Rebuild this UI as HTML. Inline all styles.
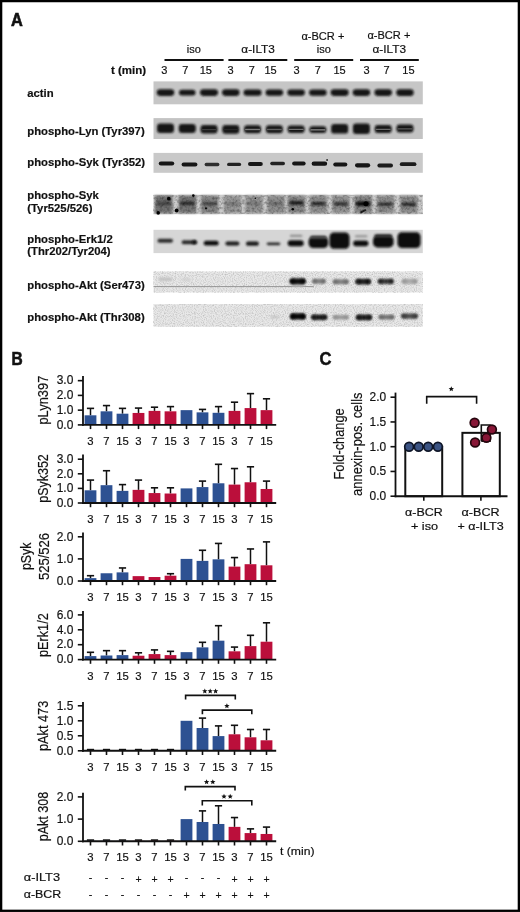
<!DOCTYPE html><html><head><meta charset="utf-8"><title>Figure</title><style>html,body{margin:0;padding:0;background:#fff;}svg{display:block;font-family:"Liberation Sans", sans-serif;will-change:transform;}text{fill:#111;stroke:#111;stroke-width:0.18px;}</style></head><body><svg width="520" height="912" viewBox="0 0 520 912"><defs><filter id="bl05" x="-10%" y="-50%" width="120%" height="200%"><feGaussianBlur stdDeviation="0.5"/></filter><filter id="bl06" x="-20%" y="-100%" width="140%" height="300%"><feGaussianBlur stdDeviation="0.6"/></filter><filter id="bl1" x="-30%" y="-100%" width="160%" height="300%"><feGaussianBlur stdDeviation="0.9"/></filter><filter id="bl15" x="-30%" y="-60%" width="160%" height="220%"><feGaussianBlur stdDeviation="1.4"/></filter><filter id="nzd" x="0" y="0" width="1" height="1"><feTurbulence type="fractalNoise" baseFrequency="0.4" numOctaves="2" seed="7"/><feColorMatrix type="matrix" values="0 0 0 0 0  0 0 0 0 0  0 0 0 0 0  2.4 0 0 0 -1.0"/><feGaussianBlur stdDeviation="0.35"/></filter><filter id="nzf" x="0" y="0" width="1" height="1"><feTurbulence type="fractalNoise" baseFrequency="0.9" numOctaves="1" seed="3"/><feColorMatrix type="matrix" values="0 0 0 0 0  0 0 0 0 0  0 0 0 0 0  2.6 0 0 0 -1.1"/><feGaussianBlur stdDeviation="0.3"/></filter><linearGradient id="sm_93921" x1="0" x2="1" y1="0" y2="0"><stop offset="0" stop-color="#040404"/><stop offset="0.25" stop-color="#040404" stop-opacity="0.6"/><stop offset="0.5" stop-color="#040404" stop-opacity="0.2"/><stop offset="0.75" stop-color="#040404" stop-opacity="0.6"/><stop offset="1" stop-color="#040404"/></linearGradient><linearGradient id="sm_40996" x1="0" x2="1" y1="0" y2="0"><stop offset="0" stop-color="#111"/><stop offset="0.25" stop-color="#111" stop-opacity="0.6"/><stop offset="0.5" stop-color="#111" stop-opacity="0.2"/><stop offset="0.75" stop-color="#111" stop-opacity="0.6"/><stop offset="1" stop-color="#111"/></linearGradient><linearGradient id="sm_61339" x1="0" x2="1" y1="0" y2="0"><stop offset="0" stop-color="#151515"/><stop offset="0.25" stop-color="#151515" stop-opacity="0.6"/><stop offset="0.5" stop-color="#151515" stop-opacity="0.2"/><stop offset="0.75" stop-color="#151515" stop-opacity="0.6"/><stop offset="1" stop-color="#151515"/></linearGradient><linearGradient id="sm_82907" x1="0" x2="1" y1="0" y2="0"><stop offset="0" stop-color="#626262"/><stop offset="0.25" stop-color="#626262" stop-opacity="0.6"/><stop offset="0.5" stop-color="#626262" stop-opacity="0.2"/><stop offset="0.75" stop-color="#626262" stop-opacity="0.6"/><stop offset="1" stop-color="#626262"/></linearGradient><linearGradient id="sm_10136" x1="0" x2="1" y1="0" y2="0"><stop offset="0" stop-color="#0a0a0a"/><stop offset="0.25" stop-color="#0a0a0a" stop-opacity="0.6"/><stop offset="0.5" stop-color="#0a0a0a" stop-opacity="0.2"/><stop offset="0.75" stop-color="#0a0a0a" stop-opacity="0.6"/><stop offset="1" stop-color="#0a0a0a"/></linearGradient><linearGradient id="sm_11785" x1="0" x2="1" y1="0" y2="0"><stop offset="0" stop-color="#2e2e2e"/><stop offset="0.25" stop-color="#2e2e2e" stop-opacity="0.6"/><stop offset="0.5" stop-color="#2e2e2e" stop-opacity="0.2"/><stop offset="0.75" stop-color="#2e2e2e" stop-opacity="0.6"/><stop offset="1" stop-color="#2e2e2e"/></linearGradient><linearGradient id="sm_97739" x1="0" x2="1" y1="0" y2="0"><stop offset="0" stop-color="#8a8a8a"/><stop offset="0.25" stop-color="#8a8a8a" stop-opacity="0.6"/><stop offset="0.5" stop-color="#8a8a8a" stop-opacity="0.2"/><stop offset="0.75" stop-color="#8a8a8a" stop-opacity="0.6"/><stop offset="1" stop-color="#8a8a8a"/></linearGradient><linearGradient id="sm_36429" x1="0" x2="1" y1="0" y2="0"><stop offset="0" stop-color="#8e8e8e"/><stop offset="0.25" stop-color="#8e8e8e" stop-opacity="0.6"/><stop offset="0.5" stop-color="#8e8e8e" stop-opacity="0.2"/><stop offset="0.75" stop-color="#8e8e8e" stop-opacity="0.6"/><stop offset="1" stop-color="#8e8e8e"/></linearGradient><linearGradient id="sm_82413" x1="0" x2="1" y1="0" y2="0"><stop offset="0" stop-color="#0e0e0e"/><stop offset="0.25" stop-color="#0e0e0e" stop-opacity="0.6"/><stop offset="0.5" stop-color="#0e0e0e" stop-opacity="0.2"/><stop offset="0.75" stop-color="#0e0e0e" stop-opacity="0.6"/><stop offset="1" stop-color="#0e0e0e"/></linearGradient><linearGradient id="sm_79787" x1="0" x2="1" y1="0" y2="0"><stop offset="0" stop-color="#5e5e5e"/><stop offset="0.25" stop-color="#5e5e5e" stop-opacity="0.6"/><stop offset="0.5" stop-color="#5e5e5e" stop-opacity="0.2"/><stop offset="0.75" stop-color="#5e5e5e" stop-opacity="0.6"/><stop offset="1" stop-color="#5e5e5e"/></linearGradient></defs><rect width="520" height="912" fill="#fff"/><text x="11.00" y="25.50" font-size="17.5" font-weight="bold" textLength="11.80" lengthAdjust="spacingAndGlyphs" style="stroke-width:0.6px">A</text>
<text x="193.90" y="53.20" font-size="11" text-anchor="middle" >iso</text>
<text x="258.10" y="52.60" font-size="11" text-anchor="middle" textLength="33.50" lengthAdjust="spacingAndGlyphs" >α-ILT3</text>
<text x="322.90" y="39.50" font-size="11" text-anchor="middle" textLength="43.00" lengthAdjust="spacingAndGlyphs" >α-BCR +</text>
<text x="323.90" y="52.80" font-size="11" text-anchor="middle" >iso</text>
<text x="388.90" y="39.00" font-size="11" text-anchor="middle" textLength="43.00" lengthAdjust="spacingAndGlyphs" >α-BCR +</text>
<text x="389.30" y="52.60" font-size="11" text-anchor="middle" textLength="33.50" lengthAdjust="spacingAndGlyphs" >α-ILT3</text>
<line x1="164.50" y1="60.00" x2="223.60" y2="60.00" stroke="#111" stroke-width="2.0"/>
<line x1="228.40" y1="60.00" x2="287.30" y2="60.00" stroke="#111" stroke-width="2.0"/>
<line x1="294.20" y1="60.00" x2="353.20" y2="60.00" stroke="#111" stroke-width="2.0"/>
<line x1="360.00" y1="60.00" x2="418.80" y2="60.00" stroke="#111" stroke-width="2.0"/>
<text x="164.40" y="73.80" font-size="11" text-anchor="middle" >3</text>
<text x="185.30" y="73.80" font-size="11" text-anchor="middle" >7</text>
<text x="205.80" y="73.80" font-size="11" text-anchor="middle" >15</text>
<text x="230.60" y="73.80" font-size="11" text-anchor="middle" >3</text>
<text x="251.70" y="73.80" font-size="11" text-anchor="middle" >7</text>
<text x="270.50" y="73.80" font-size="11" text-anchor="middle" >15</text>
<text x="296.50" y="73.80" font-size="11" text-anchor="middle" >3</text>
<text x="317.80" y="73.80" font-size="11" text-anchor="middle" >7</text>
<text x="339.50" y="73.80" font-size="11" text-anchor="middle" >15</text>
<text x="366.60" y="73.80" font-size="11" text-anchor="middle" >3</text>
<text x="386.50" y="73.80" font-size="11" text-anchor="middle" >7</text>
<text x="408.40" y="73.80" font-size="11" text-anchor="middle" >15</text>
<text x="111.00" y="73.80" font-size="11" font-weight="bold" textLength="35.20" lengthAdjust="spacingAndGlyphs" >t (min)</text>
<text x="27.30" y="96.60" font-size="11.3" font-weight="bold" >actin</text>
<text x="27.30" y="135.00" font-size="11.3" font-weight="bold" >phospho-Lyn (Tyr397)</text>
<text x="27.30" y="165.80" font-size="11.3" font-weight="bold" >phospho-Syk (Tyr352)</text>
<text x="27.30" y="198.80" font-size="11.3" font-weight="bold" >phospho-Syk</text>
<text x="27.30" y="212.00" font-size="11.3" font-weight="bold" >(Tyr525/526)</text>
<text x="27.30" y="242.50" font-size="11.3" font-weight="bold" >phospho-Erk1/2</text>
<text x="27.30" y="255.00" font-size="11.3" font-weight="bold" >(Thr202/Tyr204)</text>
<text x="27.30" y="289.30" font-size="11.3" font-weight="bold" >phospho-Akt (Ser473)</text>
<text x="27.30" y="320.80" font-size="11.3" font-weight="bold" >phospho-Akt (Thr308)</text>
<rect x="153.50" y="81.40" width="269.30" height="22.90" fill="#c6c6c6" filter="url(#bl05)"/>
<rect x="156.75" y="89.30" width="17.50" height="6.60" rx="3.30" fill="#121212" filter="url(#bl1)"/>
<rect x="179.02" y="89.70" width="16.50" height="5.80" rx="2.90" fill="#121212" filter="url(#bl1)"/>
<rect x="200.04" y="89.30" width="18.00" height="6.60" rx="3.30" fill="#121212" filter="url(#bl1)"/>
<rect x="222.06" y="89.30" width="17.50" height="6.60" rx="3.30" fill="#121212" filter="url(#bl1)"/>
<rect x="243.58" y="89.40" width="18.00" height="6.40" rx="3.20" fill="#121212" filter="url(#bl1)"/>
<rect x="265.60" y="89.40" width="17.50" height="6.40" rx="3.20" fill="#121212" filter="url(#bl1)"/>
<rect x="287.37" y="89.50" width="17.50" height="6.20" rx="3.10" fill="#121212" filter="url(#bl1)"/>
<rect x="309.14" y="89.40" width="17.50" height="6.40" rx="3.20" fill="#121212" filter="url(#bl1)"/>
<rect x="330.66" y="89.30" width="18.00" height="6.60" rx="3.30" fill="#121212" filter="url(#bl1)"/>
<rect x="352.68" y="89.30" width="17.50" height="6.60" rx="3.30" fill="#121212" filter="url(#bl1)"/>
<rect x="374.45" y="89.30" width="17.50" height="6.60" rx="3.30" fill="#121212" filter="url(#bl1)"/>
<rect x="396.22" y="89.20" width="17.50" height="6.80" rx="3.40" fill="#121212" filter="url(#bl1)"/>
<rect x="153.50" y="118.10" width="269.30" height="20.90" fill="#c3c3c3" filter="url(#bl05)"/>
<rect x="157.00" y="123.60" width="17.00" height="9.40" rx="3.20" fill="#151515" filter="url(#bl1)"/>
<rect x="178.77" y="124.10" width="17.00" height="8.80" rx="3.20" fill="#151515" filter="url(#bl1)"/>
<rect x="200.54" y="125.00" width="17.00" height="8.50" rx="3.20" fill="#151515" filter="url(#bl1)"/>
<rect x="201.54" y="128.90" width="15.00" height="1.30" rx="0.60" fill="#3c3c3c" filter="url(#bl05)"/>
<rect x="222.31" y="124.90" width="17.00" height="8.90" rx="3.20" fill="#151515" filter="url(#bl1)"/>
<rect x="223.31" y="129.00" width="15.00" height="1.30" rx="0.60" fill="#262626" filter="url(#bl05)"/>
<rect x="244.08" y="125.20" width="17.00" height="8.00" rx="3.20" fill="#151515" filter="url(#bl1)"/>
<rect x="245.08" y="128.85" width="15.00" height="1.30" rx="0.60" fill="#7a7a7a" filter="url(#bl05)"/>
<rect x="265.85" y="125.20" width="17.00" height="8.00" rx="3.20" fill="#151515" filter="url(#bl1)"/>
<rect x="266.85" y="128.85" width="15.00" height="1.30" rx="0.60" fill="#5e5e5e" filter="url(#bl05)"/>
<rect x="287.62" y="125.40" width="17.00" height="7.50" rx="3.20" fill="#151515" filter="url(#bl1)"/>
<rect x="288.62" y="128.80" width="15.00" height="1.30" rx="0.60" fill="#727272" filter="url(#bl05)"/>
<rect x="309.39" y="126.20" width="17.00" height="6.70" rx="3.20" fill="#151515" filter="url(#bl1)"/>
<rect x="310.39" y="129.20" width="15.00" height="1.30" rx="0.60" fill="#8e8e8e" filter="url(#bl05)"/>
<rect x="331.16" y="124.00" width="17.00" height="9.60" rx="3.20" fill="#151515" filter="url(#bl1)"/>
<rect x="352.93" y="123.60" width="17.00" height="10.40" rx="3.20" fill="#151515" filter="url(#bl1)"/>
<rect x="374.70" y="125.00" width="17.00" height="8.00" rx="3.20" fill="#151515" filter="url(#bl1)"/>
<rect x="375.70" y="128.65" width="15.00" height="1.30" rx="0.60" fill="#6a6a6a" filter="url(#bl05)"/>
<rect x="396.47" y="124.60" width="17.00" height="7.80" rx="3.20" fill="#151515" filter="url(#bl1)"/>
<rect x="397.47" y="128.15" width="15.00" height="1.30" rx="0.60" fill="#5a5a5a" filter="url(#bl05)"/>
<rect x="153.50" y="152.90" width="269.30" height="19.90" fill="#c9c9c9" filter="url(#bl05)"/>
<rect x="158.75" y="161.40" width="15.50" height="4.20" rx="2.10" fill="#151515" filter="url(#bl06)"/>
<rect x="181.60" y="162.40" width="15.80" height="4.00" rx="2.00" fill="#181818" filter="url(#bl06)"/>
<rect x="204.60" y="162.85" width="14.80" height="3.30" rx="1.65" fill="#2e2e2e" filter="url(#bl06)"/>
<rect x="227.05" y="162.70" width="14.10" height="3.40" rx="1.70" fill="#222" filter="url(#bl06)"/>
<rect x="248.00" y="162.00" width="14.80" height="4.00" rx="2.00" fill="#161616" filter="url(#bl06)"/>
<rect x="270.20" y="161.80" width="14.80" height="3.40" rx="1.70" fill="#222" filter="url(#bl06)"/>
<rect x="292.15" y="161.40" width="13.50" height="4.00" rx="2.00" fill="#151515" filter="url(#bl06)"/>
<rect x="311.65" y="161.55" width="15.50" height="4.30" rx="2.15" fill="#121212" filter="url(#bl06)"/>
<rect x="333.25" y="162.40" width="14.10" height="4.20" rx="2.10" fill="#151515" filter="url(#bl06)"/>
<rect x="355.00" y="163.20" width="15.20" height="4.20" rx="2.10" fill="#161616" filter="url(#bl06)"/>
<rect x="377.40" y="163.55" width="15.60" height="3.90" rx="1.95" fill="#1a1a1a" filter="url(#bl06)"/>
<rect x="399.80" y="162.30" width="16.60" height="3.80" rx="1.90" fill="#1c1c1c" filter="url(#bl06)"/>
<circle cx="327.1" cy="160.0" r="0.9" fill="#222" filter="url(#bl05)"/>
<rect x="153.50" y="194.70" width="269.30" height="19.50" fill="#cdcdcd" filter="url(#bl05)"/>
<rect x="155.00" y="195.60" width="17.60" height="17.60" fill="#727272" filter="url(#bl1)"/>
<rect x="178.60" y="195.60" width="17.60" height="17.60" fill="#767676" filter="url(#bl1)"/>
<rect x="200.90" y="195.60" width="17.60" height="17.60" fill="#848484" filter="url(#bl1)"/>
<rect x="223.70" y="195.60" width="17.60" height="17.60" fill="#989898" filter="url(#bl1)"/>
<rect x="245.20" y="195.60" width="17.60" height="17.60" fill="#949494" filter="url(#bl1)"/>
<rect x="267.10" y="195.60" width="17.60" height="17.60" fill="#8e8e8e" filter="url(#bl1)"/>
<rect x="287.70" y="195.60" width="17.60" height="17.60" fill="#888888" filter="url(#bl1)"/>
<rect x="309.60" y="195.60" width="17.60" height="17.60" fill="#8e8e8e" filter="url(#bl1)"/>
<rect x="332.00" y="195.60" width="17.60" height="17.60" fill="#929292" filter="url(#bl1)"/>
<rect x="354.40" y="195.60" width="17.60" height="17.60" fill="#848484" filter="url(#bl1)"/>
<rect x="376.60" y="195.60" width="17.60" height="17.60" fill="#8e8e8e" filter="url(#bl1)"/>
<rect x="400.00" y="195.60" width="17.60" height="17.60" fill="#8c8c8c" filter="url(#bl1)"/>
<rect x="156.55" y="201.80" width="14.50" height="3.60" rx="1.80" fill="#444" filter="url(#bl1)"/>
<rect x="180.15" y="201.60" width="14.50" height="3.60" rx="1.80" fill="#2e2e2e" filter="url(#bl1)"/>
<rect x="202.45" y="201.90" width="14.50" height="3.60" rx="1.80" fill="#484848" filter="url(#bl1)"/>
<rect x="225.25" y="201.90" width="14.50" height="3.60" rx="1.80" fill="#7a7a7a" filter="url(#bl1)"/>
<rect x="246.75" y="201.90" width="14.50" height="3.60" rx="1.80" fill="#787878" filter="url(#bl1)"/>
<rect x="268.65" y="201.90" width="14.50" height="3.60" rx="1.80" fill="#707070" filter="url(#bl1)"/>
<rect x="289.25" y="201.10" width="14.50" height="3.60" rx="1.80" fill="#1e1e1e" filter="url(#bl1)"/>
<rect x="311.15" y="201.80" width="14.50" height="3.60" rx="1.80" fill="#2e2e2e" filter="url(#bl1)"/>
<rect x="333.55" y="201.90" width="14.50" height="3.60" rx="1.80" fill="#333" filter="url(#bl1)"/>
<rect x="355.95" y="201.40" width="14.50" height="4.60" rx="2.30" fill="#080808" filter="url(#bl1)"/>
<rect x="378.15" y="202.40" width="14.50" height="3.60" rx="1.80" fill="#333" filter="url(#bl1)"/>
<rect x="401.55" y="202.40" width="14.50" height="3.60" rx="1.80" fill="#2a2a2a" filter="url(#bl1)"/>
<rect x="153.5" y="195" width="269.3" height="18.8" filter="url(#nzd)" opacity="0.3"/>
<circle cx="168.8" cy="198.7" r="1.9" fill="#050505" filter="url(#bl05)"/>
<circle cx="158.2" cy="212.9" r="1.8" fill="#050505" filter="url(#bl05)"/>
<circle cx="176.7" cy="210.5" r="1.9" fill="#050505" filter="url(#bl05)"/>
<circle cx="193.3" cy="195.6" r="1.3" fill="#050505" filter="url(#bl05)"/>
<circle cx="365.9" cy="203.7" r="2.5" fill="#050505" filter="url(#bl05)"/>
<circle cx="292.8" cy="209.3" r="1.3" fill="#050505" filter="url(#bl05)"/>
<circle cx="206.0" cy="208.3" r="1.0" fill="#050505" filter="url(#bl05)"/>
<circle cx="255.3" cy="198.2" r="0.8" fill="#050505" filter="url(#bl05)"/>
<line x1="360.4" y1="212.6" x2="365.9" y2="209.8" stroke="#1a1a1a" stroke-width="1.8" filter="url(#bl05)"/>
<rect x="153.50" y="229.80" width="269.30" height="23.30" fill="#d6d6d6" filter="url(#bl05)"/>
<rect x="157.45" y="238.80" width="15.50" height="4.00" rx="2.00" fill="#2e2e2e" filter="url(#bl1)"/>
<rect x="181.65" y="240.20" width="15.50" height="4.00" rx="2.00" fill="#2c2c2c" filter="url(#bl1)"/>
<rect x="203.70" y="240.80" width="15.00" height="4.80" rx="2.40" fill="#111" filter="url(#bl1)"/>
<rect x="225.40" y="241.50" width="14.00" height="4.00" rx="2.00" fill="#1c1c1c" filter="url(#bl1)"/>
<rect x="245.90" y="241.60" width="13.00" height="4.20" rx="2.10" fill="#1a1a1a" filter="url(#bl1)"/>
<rect x="266.75" y="242.40" width="13.50" height="2.80" rx="1.40" fill="#2c2c2c" filter="url(#bl1)"/>
<rect x="287.70" y="240.20" width="16.00" height="6.00" rx="3.00" fill="#0e0e0e" filter="url(#bl1)"/>
<rect x="308.60" y="236.70" width="19.60" height="11.40" rx="4.50" fill="#0c0c0c" filter="url(#bl1)"/>
<rect x="329.50" y="232.50" width="20.00" height="16.20" rx="4.50" fill="#0a0a0a" filter="url(#bl1)"/>
<rect x="353.15" y="240.40" width="15.30" height="5.80" rx="2.90" fill="#101010" filter="url(#bl1)"/>
<rect x="373.00" y="235.80" width="20.60" height="11.60" rx="4.50" fill="#0c0c0c" filter="url(#bl1)"/>
<rect x="397.50" y="232.30" width="23.00" height="15.80" rx="4.50" fill="#0a0a0a" filter="url(#bl1)"/>
<rect x="192.20" y="240.30" width="4.00" height="4.00" rx="2.00" fill="#161616" filter="url(#bl1)"/>
<rect x="289.85" y="234.70" width="12.50" height="2.40" rx="1.20" fill="#8e8e8e" filter="url(#bl1)"/>
<rect x="354.95" y="234.90" width="12.50" height="2.60" rx="1.30" fill="#9a9a9a" filter="url(#bl1)"/>
<rect x="310.15" y="235.70" width="16.50" height="3.00" rx="1.50" fill="#4a4a4a" filter="url(#bl1)"/>
<rect x="374.30" y="234.20" width="18.00" height="3.60" rx="1.80" fill="#2a2a2a" filter="url(#bl1)"/>
<rect x="153.50" y="271.40" width="269.30" height="21.10" fill="#e8e8e8" filter="url(#bl05)"/>
<rect x="153.5" y="271.8" width="269.3" height="20.8" filter="url(#nzf)" opacity="0.16"/>
<line x1="153.5" y1="286.6" x2="313.7" y2="286.6" stroke="#8c8c8c" stroke-width="0.9"/>
<rect x="158.50" y="277.50" width="14.00" height="3.60" rx="1.80" fill="#c2c2c2" filter="url(#bl1)"/>
<rect x="181.00" y="278.00" width="10.00" height="3.00" rx="1.50" fill="#d2d2d2" filter="url(#bl1)"/>
<rect x="291.20" y="283.50" width="13.00" height="3.00" rx="1.50" fill="#b8b8b8" filter="url(#bl1)"/>
<rect x="289.70" y="278.50" width="16.00" height="5.40" rx="2.70" fill="#161616" filter="url(#bl1)"/>
<rect x="290.20" y="278.50" width="15.00" height="5.40" rx="2.70" fill="url(#sm_93921)" filter="url(#bl1)"/>
<rect x="312.25" y="279.00" width="13.50" height="4.40" rx="2.20" fill="#8e8e8e" filter="url(#bl1)"/>
<rect x="312.75" y="279.00" width="12.50" height="4.40" rx="2.20" fill="url(#sm_79787)" filter="url(#bl1)"/>
<rect x="332.80" y="279.50" width="16.00" height="4.40" rx="2.20" fill="#8e8e8e" filter="url(#bl1)"/>
<rect x="333.30" y="279.50" width="15.00" height="4.40" rx="2.20" fill="url(#sm_82907)" filter="url(#bl1)"/>
<rect x="355.45" y="278.95" width="15.50" height="5.30" rx="2.65" fill="#333" filter="url(#bl1)"/>
<rect x="355.95" y="278.95" width="14.50" height="5.30" rx="2.65" fill="url(#sm_10136)" filter="url(#bl1)"/>
<rect x="377.80" y="278.95" width="16.00" height="4.90" rx="2.45" fill="#474747" filter="url(#bl1)"/>
<rect x="378.30" y="278.95" width="15.00" height="4.90" rx="2.45" fill="url(#sm_61339)" filter="url(#bl1)"/>
<rect x="401.60" y="278.95" width="16.00" height="4.90" rx="2.45" fill="#b6b6b6" filter="url(#bl1)"/>
<rect x="402.10" y="278.95" width="15.00" height="4.90" rx="2.45" fill="url(#sm_36429)" filter="url(#bl1)"/>
<rect x="153.50" y="304.00" width="269.30" height="22.80" fill="#e8e8e8" filter="url(#bl05)"/>
<rect x="153.5" y="304.2" width="269.3" height="22.4" filter="url(#nzf)" opacity="0.16"/>
<rect x="270.50" y="315.80" width="9.00" height="2.40" rx="1.20" fill="#c4c4c4" filter="url(#bl1)"/>
<rect x="290.10" y="313.50" width="15.60" height="5.80" rx="2.90" fill="#0a0a0a" filter="url(#bl1)"/>
<rect x="290.60" y="313.50" width="14.60" height="5.80" rx="2.90" fill="url(#sm_93921)" filter="url(#bl1)"/>
<rect x="311.20" y="314.75" width="16.00" height="4.90" rx="2.45" fill="#262626" filter="url(#bl1)"/>
<rect x="311.70" y="314.75" width="15.00" height="4.90" rx="2.45" fill="url(#sm_82413)" filter="url(#bl1)"/>
<rect x="332.80" y="315.30" width="16.00" height="4.00" rx="2.00" fill="#a2a2a2" filter="url(#bl1)"/>
<rect x="333.30" y="315.30" width="15.00" height="4.00" rx="2.00" fill="url(#sm_97739)" filter="url(#bl1)"/>
<rect x="356.00" y="314.65" width="16.00" height="5.30" rx="2.65" fill="#262626" filter="url(#bl1)"/>
<rect x="356.50" y="314.65" width="15.00" height="5.30" rx="2.65" fill="url(#sm_40996)" filter="url(#bl1)"/>
<rect x="378.50" y="314.95" width="16.00" height="4.30" rx="2.15" fill="#7e7e7e" filter="url(#bl1)"/>
<rect x="379.00" y="314.95" width="15.00" height="4.30" rx="2.15" fill="url(#sm_82907)" filter="url(#bl1)"/>
<rect x="401.00" y="313.65" width="17.00" height="4.90" rx="2.45" fill="#5a5a5a" filter="url(#bl1)"/>
<rect x="401.50" y="313.65" width="16.00" height="4.90" rx="2.45" fill="url(#sm_11785)" filter="url(#bl1)"/>
<text x="11.60" y="365.00" font-size="17.5" font-weight="bold" textLength="11.20" lengthAdjust="spacingAndGlyphs" style="stroke-width:0.6px">B</text>
<line x1="90.50" y1="415.31" x2="90.50" y2="408.38" stroke="#111" stroke-width="1.5"/>
<line x1="86.90" y1="408.38" x2="94.10" y2="408.38" stroke="#111" stroke-width="1.6"/>
<rect x="84.60" y="415.31" width="11.80" height="9.59" fill="#2d5192" />
<line x1="106.50" y1="411.33" x2="106.50" y2="405.58" stroke="#111" stroke-width="1.5"/>
<line x1="102.90" y1="405.58" x2="110.10" y2="405.58" stroke="#111" stroke-width="1.6"/>
<rect x="100.60" y="411.33" width="11.80" height="13.57" fill="#2d5192" />
<line x1="122.50" y1="413.69" x2="122.50" y2="408.38" stroke="#111" stroke-width="1.5"/>
<line x1="118.90" y1="408.38" x2="126.10" y2="408.38" stroke="#111" stroke-width="1.6"/>
<rect x="116.60" y="413.69" width="11.80" height="11.21" fill="#2d5192" />
<line x1="138.50" y1="412.95" x2="138.50" y2="408.08" stroke="#111" stroke-width="1.5"/>
<line x1="134.90" y1="408.08" x2="142.10" y2="408.08" stroke="#111" stroke-width="1.6"/>
<rect x="132.60" y="412.95" width="11.80" height="11.95" fill="#bb0f3b" />
<line x1="154.50" y1="410.89" x2="154.50" y2="407.20" stroke="#111" stroke-width="1.5"/>
<line x1="150.90" y1="407.20" x2="158.10" y2="407.20" stroke="#111" stroke-width="1.6"/>
<rect x="148.60" y="410.89" width="11.80" height="14.01" fill="#bb0f3b" />
<line x1="170.50" y1="411.33" x2="170.50" y2="406.61" stroke="#111" stroke-width="1.5"/>
<line x1="166.90" y1="406.61" x2="174.10" y2="406.61" stroke="#111" stroke-width="1.6"/>
<rect x="164.60" y="411.33" width="11.80" height="13.57" fill="#bb0f3b" />
<rect x="180.60" y="410.15" width="11.80" height="14.75" fill="#2d5192" />
<line x1="202.50" y1="412.36" x2="202.50" y2="409.41" stroke="#111" stroke-width="1.5"/>
<line x1="198.90" y1="409.41" x2="206.10" y2="409.41" stroke="#111" stroke-width="1.6"/>
<rect x="196.60" y="412.36" width="11.80" height="12.54" fill="#2d5192" />
<line x1="218.50" y1="412.80" x2="218.50" y2="406.61" stroke="#111" stroke-width="1.5"/>
<line x1="214.90" y1="406.61" x2="222.10" y2="406.61" stroke="#111" stroke-width="1.6"/>
<rect x="212.60" y="412.80" width="11.80" height="12.10" fill="#2d5192" />
<line x1="234.50" y1="410.89" x2="234.50" y2="402.19" stroke="#111" stroke-width="1.5"/>
<line x1="230.90" y1="402.19" x2="238.10" y2="402.19" stroke="#111" stroke-width="1.6"/>
<rect x="228.60" y="410.89" width="11.80" height="14.01" fill="#bb0f3b" />
<line x1="250.50" y1="408.08" x2="250.50" y2="393.63" stroke="#111" stroke-width="1.5"/>
<line x1="246.90" y1="393.63" x2="254.10" y2="393.63" stroke="#111" stroke-width="1.6"/>
<rect x="244.60" y="408.08" width="11.80" height="16.81" fill="#bb0f3b" />
<line x1="266.50" y1="410.15" x2="266.50" y2="398.79" stroke="#111" stroke-width="1.5"/>
<line x1="262.90" y1="398.79" x2="270.10" y2="398.79" stroke="#111" stroke-width="1.6"/>
<rect x="260.60" y="410.15" width="11.80" height="14.75" fill="#bb0f3b" />
<line x1="83.00" y1="376.00" x2="83.00" y2="425.80" stroke="#111" stroke-width="1.8"/>
<line x1="82.10" y1="424.90" x2="276.20" y2="424.90" stroke="#111" stroke-width="1.9"/>
<line x1="77.80" y1="424.90" x2="83.00" y2="424.90" stroke="#111" stroke-width="1.6"/>
<text x="73.30" y="428.60" font-size="12.0" text-anchor="end" textLength="16.60" lengthAdjust="spacingAndGlyphs" >0.0</text>
<line x1="77.80" y1="410.15" x2="83.00" y2="410.15" stroke="#111" stroke-width="1.6"/>
<text x="73.30" y="413.85" font-size="12.0" text-anchor="end" textLength="16.60" lengthAdjust="spacingAndGlyphs" >1.0</text>
<line x1="77.80" y1="395.40" x2="83.00" y2="395.40" stroke="#111" stroke-width="1.6"/>
<text x="73.30" y="399.10" font-size="12.0" text-anchor="end" textLength="16.60" lengthAdjust="spacingAndGlyphs" >2.0</text>
<line x1="77.80" y1="380.65" x2="83.00" y2="380.65" stroke="#111" stroke-width="1.6"/>
<text x="73.30" y="384.35" font-size="12.0" text-anchor="end" textLength="16.60" lengthAdjust="spacingAndGlyphs" >3.0</text>
<line x1="90.50" y1="424.90" x2="90.50" y2="429.10" stroke="#111" stroke-width="1.6"/>
<text x="90.50" y="444.80" font-size="11.3" text-anchor="middle" >3</text>
<line x1="106.50" y1="424.90" x2="106.50" y2="429.10" stroke="#111" stroke-width="1.6"/>
<text x="106.50" y="444.80" font-size="11.3" text-anchor="middle" >7</text>
<line x1="122.50" y1="424.90" x2="122.50" y2="429.10" stroke="#111" stroke-width="1.6"/>
<text x="122.50" y="444.80" font-size="11.3" text-anchor="middle" >15</text>
<line x1="138.50" y1="424.90" x2="138.50" y2="429.10" stroke="#111" stroke-width="1.6"/>
<text x="138.50" y="444.80" font-size="11.3" text-anchor="middle" >3</text>
<line x1="154.50" y1="424.90" x2="154.50" y2="429.10" stroke="#111" stroke-width="1.6"/>
<text x="154.50" y="444.80" font-size="11.3" text-anchor="middle" >7</text>
<line x1="170.50" y1="424.90" x2="170.50" y2="429.10" stroke="#111" stroke-width="1.6"/>
<text x="170.50" y="444.80" font-size="11.3" text-anchor="middle" >15</text>
<line x1="186.50" y1="424.90" x2="186.50" y2="429.10" stroke="#111" stroke-width="1.6"/>
<text x="186.50" y="444.80" font-size="11.3" text-anchor="middle" >3</text>
<line x1="202.50" y1="424.90" x2="202.50" y2="429.10" stroke="#111" stroke-width="1.6"/>
<text x="202.50" y="444.80" font-size="11.3" text-anchor="middle" >7</text>
<line x1="218.50" y1="424.90" x2="218.50" y2="429.10" stroke="#111" stroke-width="1.6"/>
<text x="218.50" y="444.80" font-size="11.3" text-anchor="middle" >15</text>
<line x1="234.50" y1="424.90" x2="234.50" y2="429.10" stroke="#111" stroke-width="1.6"/>
<text x="234.50" y="444.80" font-size="11.3" text-anchor="middle" >3</text>
<line x1="250.50" y1="424.90" x2="250.50" y2="429.10" stroke="#111" stroke-width="1.6"/>
<text x="250.50" y="444.80" font-size="11.3" text-anchor="middle" >7</text>
<line x1="266.50" y1="424.90" x2="266.50" y2="429.10" stroke="#111" stroke-width="1.6"/>
<text x="266.50" y="444.80" font-size="11.3" text-anchor="middle" >15</text>
<text x="48.00" y="400.10" font-size="14.5" text-anchor="middle" textLength="48.90" lengthAdjust="spacingAndGlyphs" transform="rotate(-90 48.00 400.10)" >pLyn397</text>
<line x1="90.50" y1="490.30" x2="90.50" y2="480.08" stroke="#111" stroke-width="1.5"/>
<line x1="86.90" y1="480.08" x2="94.10" y2="480.08" stroke="#111" stroke-width="1.6"/>
<rect x="84.60" y="490.30" width="11.80" height="12.70" fill="#2d5192" />
<line x1="106.50" y1="485.19" x2="106.50" y2="470.73" stroke="#111" stroke-width="1.5"/>
<line x1="102.90" y1="470.73" x2="110.10" y2="470.73" stroke="#111" stroke-width="1.6"/>
<rect x="100.60" y="485.19" width="11.80" height="17.81" fill="#2d5192" />
<line x1="122.50" y1="490.88" x2="122.50" y2="484.60" stroke="#111" stroke-width="1.5"/>
<line x1="118.90" y1="484.60" x2="126.10" y2="484.60" stroke="#111" stroke-width="1.6"/>
<rect x="116.60" y="490.88" width="11.80" height="12.12" fill="#2d5192" />
<line x1="138.50" y1="489.86" x2="138.50" y2="480.08" stroke="#111" stroke-width="1.5"/>
<line x1="134.90" y1="480.08" x2="142.10" y2="480.08" stroke="#111" stroke-width="1.6"/>
<rect x="132.60" y="489.86" width="11.80" height="13.14" fill="#bb0f3b" />
<line x1="154.50" y1="493.07" x2="154.50" y2="487.82" stroke="#111" stroke-width="1.5"/>
<line x1="150.90" y1="487.82" x2="158.10" y2="487.82" stroke="#111" stroke-width="1.6"/>
<rect x="148.60" y="493.07" width="11.80" height="9.93" fill="#bb0f3b" />
<line x1="170.50" y1="493.51" x2="170.50" y2="487.82" stroke="#111" stroke-width="1.5"/>
<line x1="166.90" y1="487.82" x2="174.10" y2="487.82" stroke="#111" stroke-width="1.6"/>
<rect x="164.60" y="493.51" width="11.80" height="9.49" fill="#bb0f3b" />
<rect x="180.60" y="488.40" width="11.80" height="14.60" fill="#2d5192" />
<line x1="202.50" y1="487.09" x2="202.50" y2="481.10" stroke="#111" stroke-width="1.5"/>
<line x1="198.90" y1="481.10" x2="206.10" y2="481.10" stroke="#111" stroke-width="1.6"/>
<rect x="196.60" y="487.09" width="11.80" height="15.91" fill="#2d5192" />
<line x1="218.50" y1="483.29" x2="218.50" y2="464.31" stroke="#111" stroke-width="1.5"/>
<line x1="214.90" y1="464.31" x2="222.10" y2="464.31" stroke="#111" stroke-width="1.6"/>
<rect x="212.60" y="483.29" width="11.80" height="19.71" fill="#2d5192" />
<line x1="234.50" y1="484.60" x2="234.50" y2="468.54" stroke="#111" stroke-width="1.5"/>
<line x1="230.90" y1="468.54" x2="238.10" y2="468.54" stroke="#111" stroke-width="1.6"/>
<rect x="228.60" y="484.60" width="11.80" height="18.40" fill="#bb0f3b" />
<line x1="250.50" y1="482.27" x2="250.50" y2="466.79" stroke="#111" stroke-width="1.5"/>
<line x1="246.90" y1="466.79" x2="254.10" y2="466.79" stroke="#111" stroke-width="1.6"/>
<rect x="244.60" y="482.27" width="11.80" height="20.73" fill="#bb0f3b" />
<line x1="266.50" y1="488.98" x2="266.50" y2="481.10" stroke="#111" stroke-width="1.5"/>
<line x1="262.90" y1="481.10" x2="270.10" y2="481.10" stroke="#111" stroke-width="1.6"/>
<rect x="260.60" y="488.98" width="11.80" height="14.02" fill="#bb0f3b" />
<line x1="83.00" y1="454.40" x2="83.00" y2="503.90" stroke="#111" stroke-width="1.8"/>
<line x1="82.10" y1="503.00" x2="276.20" y2="503.00" stroke="#111" stroke-width="1.9"/>
<line x1="77.80" y1="503.00" x2="83.00" y2="503.00" stroke="#111" stroke-width="1.6"/>
<text x="73.30" y="506.70" font-size="12.0" text-anchor="end" textLength="16.60" lengthAdjust="spacingAndGlyphs" >0.0</text>
<line x1="77.80" y1="488.40" x2="83.00" y2="488.40" stroke="#111" stroke-width="1.6"/>
<text x="73.30" y="492.10" font-size="12.0" text-anchor="end" textLength="16.60" lengthAdjust="spacingAndGlyphs" >1.0</text>
<line x1="77.80" y1="473.80" x2="83.00" y2="473.80" stroke="#111" stroke-width="1.6"/>
<text x="73.30" y="477.50" font-size="12.0" text-anchor="end" textLength="16.60" lengthAdjust="spacingAndGlyphs" >2.0</text>
<line x1="77.80" y1="459.20" x2="83.00" y2="459.20" stroke="#111" stroke-width="1.6"/>
<text x="73.30" y="462.90" font-size="12.0" text-anchor="end" textLength="16.60" lengthAdjust="spacingAndGlyphs" >3.0</text>
<line x1="90.50" y1="503.00" x2="90.50" y2="507.20" stroke="#111" stroke-width="1.6"/>
<text x="90.50" y="522.90" font-size="11.3" text-anchor="middle" >3</text>
<line x1="106.50" y1="503.00" x2="106.50" y2="507.20" stroke="#111" stroke-width="1.6"/>
<text x="106.50" y="522.90" font-size="11.3" text-anchor="middle" >7</text>
<line x1="122.50" y1="503.00" x2="122.50" y2="507.20" stroke="#111" stroke-width="1.6"/>
<text x="122.50" y="522.90" font-size="11.3" text-anchor="middle" >15</text>
<line x1="138.50" y1="503.00" x2="138.50" y2="507.20" stroke="#111" stroke-width="1.6"/>
<text x="138.50" y="522.90" font-size="11.3" text-anchor="middle" >3</text>
<line x1="154.50" y1="503.00" x2="154.50" y2="507.20" stroke="#111" stroke-width="1.6"/>
<text x="154.50" y="522.90" font-size="11.3" text-anchor="middle" >7</text>
<line x1="170.50" y1="503.00" x2="170.50" y2="507.20" stroke="#111" stroke-width="1.6"/>
<text x="170.50" y="522.90" font-size="11.3" text-anchor="middle" >15</text>
<line x1="186.50" y1="503.00" x2="186.50" y2="507.20" stroke="#111" stroke-width="1.6"/>
<text x="186.50" y="522.90" font-size="11.3" text-anchor="middle" >3</text>
<line x1="202.50" y1="503.00" x2="202.50" y2="507.20" stroke="#111" stroke-width="1.6"/>
<text x="202.50" y="522.90" font-size="11.3" text-anchor="middle" >7</text>
<line x1="218.50" y1="503.00" x2="218.50" y2="507.20" stroke="#111" stroke-width="1.6"/>
<text x="218.50" y="522.90" font-size="11.3" text-anchor="middle" >15</text>
<line x1="234.50" y1="503.00" x2="234.50" y2="507.20" stroke="#111" stroke-width="1.6"/>
<text x="234.50" y="522.90" font-size="11.3" text-anchor="middle" >3</text>
<line x1="250.50" y1="503.00" x2="250.50" y2="507.20" stroke="#111" stroke-width="1.6"/>
<text x="250.50" y="522.90" font-size="11.3" text-anchor="middle" >7</text>
<line x1="266.50" y1="503.00" x2="266.50" y2="507.20" stroke="#111" stroke-width="1.6"/>
<text x="266.50" y="522.90" font-size="11.3" text-anchor="middle" >15</text>
<text x="48.00" y="478.50" font-size="14.5" text-anchor="middle" textLength="48.60" lengthAdjust="spacingAndGlyphs" transform="rotate(-90 48.00 478.50)" >pSyk352</text>
<line x1="90.50" y1="578.13" x2="90.50" y2="575.70" stroke="#111" stroke-width="1.5"/>
<line x1="86.90" y1="575.70" x2="94.10" y2="575.70" stroke="#111" stroke-width="1.6"/>
<rect x="84.60" y="578.13" width="11.80" height="2.87" fill="#2d5192" />
<rect x="100.60" y="573.26" width="11.80" height="7.74" fill="#2d5192" />
<line x1="122.50" y1="572.38" x2="122.50" y2="567.96" stroke="#111" stroke-width="1.5"/>
<line x1="118.90" y1="567.96" x2="126.10" y2="567.96" stroke="#111" stroke-width="1.6"/>
<rect x="116.60" y="572.38" width="11.80" height="8.62" fill="#2d5192" />
<rect x="132.60" y="576.14" width="11.80" height="4.86" fill="#bb0f3b" />
<rect x="148.60" y="577.02" width="11.80" height="3.98" fill="#bb0f3b" />
<line x1="170.50" y1="575.70" x2="170.50" y2="573.71" stroke="#111" stroke-width="1.5"/>
<line x1="166.90" y1="573.71" x2="174.10" y2="573.71" stroke="#111" stroke-width="1.6"/>
<rect x="164.60" y="575.70" width="11.80" height="5.30" fill="#bb0f3b" />
<rect x="180.60" y="558.90" width="11.80" height="22.10" fill="#2d5192" />
<line x1="202.50" y1="560.89" x2="202.50" y2="550.28" stroke="#111" stroke-width="1.5"/>
<line x1="198.90" y1="550.28" x2="206.10" y2="550.28" stroke="#111" stroke-width="1.6"/>
<rect x="196.60" y="560.89" width="11.80" height="20.11" fill="#2d5192" />
<line x1="218.50" y1="559.34" x2="218.50" y2="543.43" stroke="#111" stroke-width="1.5"/>
<line x1="214.90" y1="543.43" x2="222.10" y2="543.43" stroke="#111" stroke-width="1.6"/>
<rect x="212.60" y="559.34" width="11.80" height="21.66" fill="#2d5192" />
<line x1="234.50" y1="566.63" x2="234.50" y2="557.57" stroke="#111" stroke-width="1.5"/>
<line x1="230.90" y1="557.57" x2="238.10" y2="557.57" stroke="#111" stroke-width="1.6"/>
<rect x="228.60" y="566.63" width="11.80" height="14.37" fill="#bb0f3b" />
<line x1="250.50" y1="564.20" x2="250.50" y2="548.96" stroke="#111" stroke-width="1.5"/>
<line x1="246.90" y1="548.96" x2="254.10" y2="548.96" stroke="#111" stroke-width="1.6"/>
<rect x="244.60" y="564.20" width="11.80" height="16.80" fill="#bb0f3b" />
<line x1="266.50" y1="565.31" x2="266.50" y2="541.88" stroke="#111" stroke-width="1.5"/>
<line x1="262.90" y1="541.88" x2="270.10" y2="541.88" stroke="#111" stroke-width="1.6"/>
<rect x="260.60" y="565.31" width="11.80" height="15.69" fill="#bb0f3b" />
<line x1="83.00" y1="532.50" x2="83.00" y2="581.90" stroke="#111" stroke-width="1.8"/>
<line x1="82.10" y1="581.00" x2="276.20" y2="581.00" stroke="#111" stroke-width="1.9"/>
<line x1="77.80" y1="581.00" x2="83.00" y2="581.00" stroke="#111" stroke-width="1.6"/>
<text x="73.30" y="584.70" font-size="12.0" text-anchor="end" textLength="16.60" lengthAdjust="spacingAndGlyphs" >0.0</text>
<line x1="77.80" y1="558.90" x2="83.00" y2="558.90" stroke="#111" stroke-width="1.6"/>
<text x="73.30" y="562.60" font-size="12.0" text-anchor="end" textLength="16.60" lengthAdjust="spacingAndGlyphs" >1.0</text>
<line x1="77.80" y1="536.80" x2="83.00" y2="536.80" stroke="#111" stroke-width="1.6"/>
<text x="73.30" y="540.50" font-size="12.0" text-anchor="end" textLength="16.60" lengthAdjust="spacingAndGlyphs" >2.0</text>
<line x1="90.50" y1="581.00" x2="90.50" y2="585.20" stroke="#111" stroke-width="1.6"/>
<text x="90.50" y="600.90" font-size="11.3" text-anchor="middle" >3</text>
<line x1="106.50" y1="581.00" x2="106.50" y2="585.20" stroke="#111" stroke-width="1.6"/>
<text x="106.50" y="600.90" font-size="11.3" text-anchor="middle" >7</text>
<line x1="122.50" y1="581.00" x2="122.50" y2="585.20" stroke="#111" stroke-width="1.6"/>
<text x="122.50" y="600.90" font-size="11.3" text-anchor="middle" >15</text>
<line x1="138.50" y1="581.00" x2="138.50" y2="585.20" stroke="#111" stroke-width="1.6"/>
<text x="138.50" y="600.90" font-size="11.3" text-anchor="middle" >3</text>
<line x1="154.50" y1="581.00" x2="154.50" y2="585.20" stroke="#111" stroke-width="1.6"/>
<text x="154.50" y="600.90" font-size="11.3" text-anchor="middle" >7</text>
<line x1="170.50" y1="581.00" x2="170.50" y2="585.20" stroke="#111" stroke-width="1.6"/>
<text x="170.50" y="600.90" font-size="11.3" text-anchor="middle" >15</text>
<line x1="186.50" y1="581.00" x2="186.50" y2="585.20" stroke="#111" stroke-width="1.6"/>
<text x="186.50" y="600.90" font-size="11.3" text-anchor="middle" >3</text>
<line x1="202.50" y1="581.00" x2="202.50" y2="585.20" stroke="#111" stroke-width="1.6"/>
<text x="202.50" y="600.90" font-size="11.3" text-anchor="middle" >7</text>
<line x1="218.50" y1="581.00" x2="218.50" y2="585.20" stroke="#111" stroke-width="1.6"/>
<text x="218.50" y="600.90" font-size="11.3" text-anchor="middle" >15</text>
<line x1="234.50" y1="581.00" x2="234.50" y2="585.20" stroke="#111" stroke-width="1.6"/>
<text x="234.50" y="600.90" font-size="11.3" text-anchor="middle" >3</text>
<line x1="250.50" y1="581.00" x2="250.50" y2="585.20" stroke="#111" stroke-width="1.6"/>
<text x="250.50" y="600.90" font-size="11.3" text-anchor="middle" >7</text>
<line x1="266.50" y1="581.00" x2="266.50" y2="585.20" stroke="#111" stroke-width="1.6"/>
<text x="266.50" y="600.90" font-size="11.3" text-anchor="middle" >15</text>
<text x="31.40" y="556.30" font-size="14.5" text-anchor="middle" textLength="27.40" lengthAdjust="spacingAndGlyphs" transform="rotate(-90 31.40 556.30)" >pSyk</text>
<text x="48.80" y="556.50" font-size="14.5" text-anchor="middle" textLength="47.10" lengthAdjust="spacingAndGlyphs" transform="rotate(-90 48.80 556.50)" >525/526</text>
<line x1="90.50" y1="656.10" x2="90.50" y2="652.30" stroke="#111" stroke-width="1.5"/>
<line x1="86.90" y1="652.30" x2="94.10" y2="652.30" stroke="#111" stroke-width="1.6"/>
<rect x="84.60" y="656.10" width="11.80" height="3.50" fill="#2d5192" />
<line x1="106.50" y1="655.50" x2="106.50" y2="650.66" stroke="#111" stroke-width="1.5"/>
<line x1="102.90" y1="650.66" x2="110.10" y2="650.66" stroke="#111" stroke-width="1.6"/>
<rect x="100.60" y="655.50" width="11.80" height="4.10" fill="#2d5192" />
<line x1="122.50" y1="655.13" x2="122.50" y2="650.66" stroke="#111" stroke-width="1.5"/>
<line x1="118.90" y1="650.66" x2="126.10" y2="650.66" stroke="#111" stroke-width="1.6"/>
<rect x="116.60" y="655.13" width="11.80" height="4.47" fill="#2d5192" />
<line x1="138.50" y1="655.73" x2="138.50" y2="652.82" stroke="#111" stroke-width="1.5"/>
<line x1="134.90" y1="652.82" x2="142.10" y2="652.82" stroke="#111" stroke-width="1.6"/>
<rect x="132.60" y="655.73" width="11.80" height="3.87" fill="#bb0f3b" />
<line x1="154.50" y1="654.09" x2="154.50" y2="649.92" stroke="#111" stroke-width="1.5"/>
<line x1="150.90" y1="649.92" x2="158.10" y2="649.92" stroke="#111" stroke-width="1.6"/>
<rect x="148.60" y="654.09" width="11.80" height="5.51" fill="#bb0f3b" />
<line x1="170.50" y1="655.13" x2="170.50" y2="651.33" stroke="#111" stroke-width="1.5"/>
<line x1="166.90" y1="651.33" x2="174.10" y2="651.33" stroke="#111" stroke-width="1.6"/>
<rect x="164.60" y="655.13" width="11.80" height="4.47" fill="#bb0f3b" />
<rect x="180.60" y="652.15" width="11.80" height="7.45" fill="#2d5192" />
<line x1="202.50" y1="647.38" x2="202.50" y2="642.32" stroke="#111" stroke-width="1.5"/>
<line x1="198.90" y1="642.32" x2="206.10" y2="642.32" stroke="#111" stroke-width="1.6"/>
<rect x="196.60" y="647.38" width="11.80" height="12.22" fill="#2d5192" />
<line x1="218.50" y1="640.68" x2="218.50" y2="625.70" stroke="#111" stroke-width="1.5"/>
<line x1="214.90" y1="625.70" x2="222.10" y2="625.70" stroke="#111" stroke-width="1.6"/>
<rect x="212.60" y="640.68" width="11.80" height="18.92" fill="#2d5192" />
<line x1="234.50" y1="651.33" x2="234.50" y2="647.08" stroke="#111" stroke-width="1.5"/>
<line x1="230.90" y1="647.08" x2="238.10" y2="647.08" stroke="#111" stroke-width="1.6"/>
<rect x="228.60" y="651.33" width="11.80" height="8.27" fill="#bb0f3b" />
<line x1="250.50" y1="646.12" x2="250.50" y2="635.31" stroke="#111" stroke-width="1.5"/>
<line x1="246.90" y1="635.31" x2="254.10" y2="635.31" stroke="#111" stroke-width="1.6"/>
<rect x="244.60" y="646.12" width="11.80" height="13.48" fill="#bb0f3b" />
<line x1="266.50" y1="641.72" x2="266.50" y2="622.80" stroke="#111" stroke-width="1.5"/>
<line x1="262.90" y1="622.80" x2="270.10" y2="622.80" stroke="#111" stroke-width="1.6"/>
<rect x="260.60" y="641.72" width="11.80" height="17.88" fill="#bb0f3b" />
<line x1="83.00" y1="611.00" x2="83.00" y2="660.50" stroke="#111" stroke-width="1.8"/>
<line x1="82.10" y1="659.60" x2="276.20" y2="659.60" stroke="#111" stroke-width="1.9"/>
<line x1="77.80" y1="659.60" x2="83.00" y2="659.60" stroke="#111" stroke-width="1.6"/>
<text x="73.30" y="663.30" font-size="12.0" text-anchor="end" textLength="16.60" lengthAdjust="spacingAndGlyphs" >0.0</text>
<line x1="77.80" y1="644.70" x2="83.00" y2="644.70" stroke="#111" stroke-width="1.6"/>
<text x="73.30" y="648.40" font-size="12.0" text-anchor="end" textLength="16.60" lengthAdjust="spacingAndGlyphs" >2.0</text>
<line x1="77.80" y1="629.80" x2="83.00" y2="629.80" stroke="#111" stroke-width="1.6"/>
<text x="73.30" y="633.50" font-size="12.0" text-anchor="end" textLength="16.60" lengthAdjust="spacingAndGlyphs" >4.0</text>
<line x1="77.80" y1="614.90" x2="83.00" y2="614.90" stroke="#111" stroke-width="1.6"/>
<text x="73.30" y="618.60" font-size="12.0" text-anchor="end" textLength="16.60" lengthAdjust="spacingAndGlyphs" >6.0</text>
<line x1="90.50" y1="659.60" x2="90.50" y2="663.80" stroke="#111" stroke-width="1.6"/>
<text x="90.50" y="679.50" font-size="11.3" text-anchor="middle" >3</text>
<line x1="106.50" y1="659.60" x2="106.50" y2="663.80" stroke="#111" stroke-width="1.6"/>
<text x="106.50" y="679.50" font-size="11.3" text-anchor="middle" >7</text>
<line x1="122.50" y1="659.60" x2="122.50" y2="663.80" stroke="#111" stroke-width="1.6"/>
<text x="122.50" y="679.50" font-size="11.3" text-anchor="middle" >15</text>
<line x1="138.50" y1="659.60" x2="138.50" y2="663.80" stroke="#111" stroke-width="1.6"/>
<text x="138.50" y="679.50" font-size="11.3" text-anchor="middle" >3</text>
<line x1="154.50" y1="659.60" x2="154.50" y2="663.80" stroke="#111" stroke-width="1.6"/>
<text x="154.50" y="679.50" font-size="11.3" text-anchor="middle" >7</text>
<line x1="170.50" y1="659.60" x2="170.50" y2="663.80" stroke="#111" stroke-width="1.6"/>
<text x="170.50" y="679.50" font-size="11.3" text-anchor="middle" >15</text>
<line x1="186.50" y1="659.60" x2="186.50" y2="663.80" stroke="#111" stroke-width="1.6"/>
<text x="186.50" y="679.50" font-size="11.3" text-anchor="middle" >3</text>
<line x1="202.50" y1="659.60" x2="202.50" y2="663.80" stroke="#111" stroke-width="1.6"/>
<text x="202.50" y="679.50" font-size="11.3" text-anchor="middle" >7</text>
<line x1="218.50" y1="659.60" x2="218.50" y2="663.80" stroke="#111" stroke-width="1.6"/>
<text x="218.50" y="679.50" font-size="11.3" text-anchor="middle" >15</text>
<line x1="234.50" y1="659.60" x2="234.50" y2="663.80" stroke="#111" stroke-width="1.6"/>
<text x="234.50" y="679.50" font-size="11.3" text-anchor="middle" >3</text>
<line x1="250.50" y1="659.60" x2="250.50" y2="663.80" stroke="#111" stroke-width="1.6"/>
<text x="250.50" y="679.50" font-size="11.3" text-anchor="middle" >7</text>
<line x1="266.50" y1="659.60" x2="266.50" y2="663.80" stroke="#111" stroke-width="1.6"/>
<text x="266.50" y="679.50" font-size="11.3" text-anchor="middle" >15</text>
<text x="48.00" y="635.10" font-size="14.5" text-anchor="middle" textLength="43.70" lengthAdjust="spacingAndGlyphs" transform="rotate(-90 48.00 635.10)" >pErk1/2</text>
<line x1="90.50" y1="750.35" x2="90.50" y2="749.60" stroke="#111" stroke-width="1.5"/>
<line x1="86.90" y1="749.60" x2="94.10" y2="749.60" stroke="#111" stroke-width="1.6"/>
<rect x="84.60" y="750.35" width="11.80" height="0.45" fill="#2d5192" />
<line x1="106.50" y1="750.35" x2="106.50" y2="749.60" stroke="#111" stroke-width="1.5"/>
<line x1="102.90" y1="749.60" x2="110.10" y2="749.60" stroke="#111" stroke-width="1.6"/>
<rect x="100.60" y="750.35" width="11.80" height="0.45" fill="#2d5192" />
<line x1="122.50" y1="750.35" x2="122.50" y2="749.60" stroke="#111" stroke-width="1.5"/>
<line x1="118.90" y1="749.60" x2="126.10" y2="749.60" stroke="#111" stroke-width="1.6"/>
<rect x="116.60" y="750.35" width="11.80" height="0.45" fill="#2d5192" />
<line x1="138.50" y1="750.35" x2="138.50" y2="749.60" stroke="#111" stroke-width="1.5"/>
<line x1="134.90" y1="749.60" x2="142.10" y2="749.60" stroke="#111" stroke-width="1.6"/>
<rect x="132.60" y="750.35" width="11.80" height="0.45" fill="#bb0f3b" />
<line x1="154.50" y1="750.35" x2="154.50" y2="749.60" stroke="#111" stroke-width="1.5"/>
<line x1="150.90" y1="749.60" x2="158.10" y2="749.60" stroke="#111" stroke-width="1.6"/>
<rect x="148.60" y="750.35" width="11.80" height="0.45" fill="#bb0f3b" />
<line x1="170.50" y1="750.35" x2="170.50" y2="749.60" stroke="#111" stroke-width="1.5"/>
<line x1="166.90" y1="749.60" x2="174.10" y2="749.60" stroke="#111" stroke-width="1.6"/>
<rect x="164.60" y="750.35" width="11.80" height="0.45" fill="#bb0f3b" />
<rect x="180.60" y="720.80" width="11.80" height="30.00" fill="#2d5192" />
<line x1="202.50" y1="728.00" x2="202.50" y2="718.10" stroke="#111" stroke-width="1.5"/>
<line x1="198.90" y1="718.10" x2="206.10" y2="718.10" stroke="#111" stroke-width="1.6"/>
<rect x="196.60" y="728.00" width="11.80" height="22.80" fill="#2d5192" />
<line x1="218.50" y1="736.10" x2="218.50" y2="725.90" stroke="#111" stroke-width="1.5"/>
<line x1="214.90" y1="725.90" x2="222.10" y2="725.90" stroke="#111" stroke-width="1.6"/>
<rect x="212.60" y="736.10" width="11.80" height="14.70" fill="#2d5192" />
<line x1="234.50" y1="734.30" x2="234.50" y2="725.30" stroke="#111" stroke-width="1.5"/>
<line x1="230.90" y1="725.30" x2="238.10" y2="725.30" stroke="#111" stroke-width="1.6"/>
<rect x="228.60" y="734.30" width="11.80" height="16.50" fill="#bb0f3b" />
<line x1="250.50" y1="737.30" x2="250.50" y2="729.50" stroke="#111" stroke-width="1.5"/>
<line x1="246.90" y1="729.50" x2="254.10" y2="729.50" stroke="#111" stroke-width="1.6"/>
<rect x="244.60" y="737.30" width="11.80" height="13.50" fill="#bb0f3b" />
<line x1="266.50" y1="740.30" x2="266.50" y2="729.50" stroke="#111" stroke-width="1.5"/>
<line x1="262.90" y1="729.50" x2="270.10" y2="729.50" stroke="#111" stroke-width="1.6"/>
<rect x="260.60" y="740.30" width="11.80" height="10.50" fill="#bb0f3b" />
<line x1="83.00" y1="702.00" x2="83.00" y2="751.70" stroke="#111" stroke-width="1.8"/>
<line x1="82.10" y1="750.80" x2="276.20" y2="750.80" stroke="#111" stroke-width="1.9"/>
<line x1="77.80" y1="750.80" x2="83.00" y2="750.80" stroke="#111" stroke-width="1.6"/>
<text x="73.30" y="754.50" font-size="12.0" text-anchor="end" textLength="16.60" lengthAdjust="spacingAndGlyphs" >0.0</text>
<line x1="77.80" y1="735.80" x2="83.00" y2="735.80" stroke="#111" stroke-width="1.6"/>
<text x="73.30" y="739.50" font-size="12.0" text-anchor="end" textLength="16.60" lengthAdjust="spacingAndGlyphs" >0.5</text>
<line x1="77.80" y1="720.80" x2="83.00" y2="720.80" stroke="#111" stroke-width="1.6"/>
<text x="73.30" y="724.50" font-size="12.0" text-anchor="end" textLength="16.60" lengthAdjust="spacingAndGlyphs" >1.0</text>
<line x1="77.80" y1="705.80" x2="83.00" y2="705.80" stroke="#111" stroke-width="1.6"/>
<text x="73.30" y="709.50" font-size="12.0" text-anchor="end" textLength="16.60" lengthAdjust="spacingAndGlyphs" >1.5</text>
<line x1="90.50" y1="750.80" x2="90.50" y2="755.00" stroke="#111" stroke-width="1.6"/>
<text x="90.50" y="770.70" font-size="11.3" text-anchor="middle" >3</text>
<line x1="106.50" y1="750.80" x2="106.50" y2="755.00" stroke="#111" stroke-width="1.6"/>
<text x="106.50" y="770.70" font-size="11.3" text-anchor="middle" >7</text>
<line x1="122.50" y1="750.80" x2="122.50" y2="755.00" stroke="#111" stroke-width="1.6"/>
<text x="122.50" y="770.70" font-size="11.3" text-anchor="middle" >15</text>
<line x1="138.50" y1="750.80" x2="138.50" y2="755.00" stroke="#111" stroke-width="1.6"/>
<text x="138.50" y="770.70" font-size="11.3" text-anchor="middle" >3</text>
<line x1="154.50" y1="750.80" x2="154.50" y2="755.00" stroke="#111" stroke-width="1.6"/>
<text x="154.50" y="770.70" font-size="11.3" text-anchor="middle" >7</text>
<line x1="170.50" y1="750.80" x2="170.50" y2="755.00" stroke="#111" stroke-width="1.6"/>
<text x="170.50" y="770.70" font-size="11.3" text-anchor="middle" >15</text>
<line x1="186.50" y1="750.80" x2="186.50" y2="755.00" stroke="#111" stroke-width="1.6"/>
<text x="186.50" y="770.70" font-size="11.3" text-anchor="middle" >3</text>
<line x1="202.50" y1="750.80" x2="202.50" y2="755.00" stroke="#111" stroke-width="1.6"/>
<text x="202.50" y="770.70" font-size="11.3" text-anchor="middle" >7</text>
<line x1="218.50" y1="750.80" x2="218.50" y2="755.00" stroke="#111" stroke-width="1.6"/>
<text x="218.50" y="770.70" font-size="11.3" text-anchor="middle" >15</text>
<line x1="234.50" y1="750.80" x2="234.50" y2="755.00" stroke="#111" stroke-width="1.6"/>
<text x="234.50" y="770.70" font-size="11.3" text-anchor="middle" >3</text>
<line x1="250.50" y1="750.80" x2="250.50" y2="755.00" stroke="#111" stroke-width="1.6"/>
<text x="250.50" y="770.70" font-size="11.3" text-anchor="middle" >7</text>
<line x1="266.50" y1="750.80" x2="266.50" y2="755.00" stroke="#111" stroke-width="1.6"/>
<text x="266.50" y="770.70" font-size="11.3" text-anchor="middle" >15</text>
<text x="48.00" y="725.90" font-size="14.5" text-anchor="middle" textLength="50.30" lengthAdjust="spacingAndGlyphs" transform="rotate(-90 48.00 725.90)" >pAkt 473</text>
<line x1="90.50" y1="840.86" x2="90.50" y2="840.08" stroke="#111" stroke-width="1.5"/>
<line x1="86.90" y1="840.08" x2="94.10" y2="840.08" stroke="#111" stroke-width="1.6"/>
<rect x="84.60" y="840.86" width="11.80" height="0.44" fill="#2d5192" />
<line x1="106.50" y1="840.86" x2="106.50" y2="840.08" stroke="#111" stroke-width="1.5"/>
<line x1="102.90" y1="840.08" x2="110.10" y2="840.08" stroke="#111" stroke-width="1.6"/>
<rect x="100.60" y="840.86" width="11.80" height="0.44" fill="#2d5192" />
<line x1="122.50" y1="840.86" x2="122.50" y2="840.08" stroke="#111" stroke-width="1.5"/>
<line x1="118.90" y1="840.08" x2="126.10" y2="840.08" stroke="#111" stroke-width="1.6"/>
<rect x="116.60" y="840.86" width="11.80" height="0.44" fill="#2d5192" />
<line x1="138.50" y1="840.86" x2="138.50" y2="840.08" stroke="#111" stroke-width="1.5"/>
<line x1="134.90" y1="840.08" x2="142.10" y2="840.08" stroke="#111" stroke-width="1.6"/>
<rect x="132.60" y="840.86" width="11.80" height="0.44" fill="#bb0f3b" />
<line x1="154.50" y1="840.86" x2="154.50" y2="840.08" stroke="#111" stroke-width="1.5"/>
<line x1="150.90" y1="840.08" x2="158.10" y2="840.08" stroke="#111" stroke-width="1.6"/>
<rect x="148.60" y="840.86" width="11.80" height="0.44" fill="#bb0f3b" />
<line x1="170.50" y1="840.86" x2="170.50" y2="840.08" stroke="#111" stroke-width="1.5"/>
<line x1="166.90" y1="840.08" x2="174.10" y2="840.08" stroke="#111" stroke-width="1.6"/>
<rect x="164.60" y="840.86" width="11.80" height="0.44" fill="#bb0f3b" />
<rect x="180.60" y="819.10" width="11.80" height="22.20" fill="#2d5192" />
<line x1="202.50" y1="821.99" x2="202.50" y2="810.89" stroke="#111" stroke-width="1.5"/>
<line x1="198.90" y1="810.89" x2="206.10" y2="810.89" stroke="#111" stroke-width="1.6"/>
<rect x="196.60" y="821.99" width="11.80" height="19.31" fill="#2d5192" />
<line x1="218.50" y1="823.98" x2="218.50" y2="805.78" stroke="#111" stroke-width="1.5"/>
<line x1="214.90" y1="805.78" x2="222.10" y2="805.78" stroke="#111" stroke-width="1.6"/>
<rect x="212.60" y="823.98" width="11.80" height="17.32" fill="#2d5192" />
<line x1="234.50" y1="826.87" x2="234.50" y2="817.55" stroke="#111" stroke-width="1.5"/>
<line x1="230.90" y1="817.55" x2="238.10" y2="817.55" stroke="#111" stroke-width="1.6"/>
<rect x="228.60" y="826.87" width="11.80" height="14.43" fill="#bb0f3b" />
<line x1="250.50" y1="833.09" x2="250.50" y2="828.87" stroke="#111" stroke-width="1.5"/>
<line x1="246.90" y1="828.87" x2="254.10" y2="828.87" stroke="#111" stroke-width="1.6"/>
<rect x="244.60" y="833.09" width="11.80" height="8.21" fill="#bb0f3b" />
<line x1="266.50" y1="833.97" x2="266.50" y2="827.09" stroke="#111" stroke-width="1.5"/>
<line x1="262.90" y1="827.09" x2="270.10" y2="827.09" stroke="#111" stroke-width="1.6"/>
<rect x="260.60" y="833.97" width="11.80" height="7.33" fill="#bb0f3b" />
<line x1="83.00" y1="792.70" x2="83.00" y2="842.20" stroke="#111" stroke-width="1.8"/>
<line x1="82.10" y1="841.30" x2="276.20" y2="841.30" stroke="#111" stroke-width="1.9"/>
<line x1="77.80" y1="841.30" x2="83.00" y2="841.30" stroke="#111" stroke-width="1.6"/>
<text x="73.30" y="845.00" font-size="12.0" text-anchor="end" textLength="16.60" lengthAdjust="spacingAndGlyphs" >0.0</text>
<line x1="77.80" y1="819.10" x2="83.00" y2="819.10" stroke="#111" stroke-width="1.6"/>
<text x="73.30" y="822.80" font-size="12.0" text-anchor="end" textLength="16.60" lengthAdjust="spacingAndGlyphs" >1.0</text>
<line x1="77.80" y1="796.90" x2="83.00" y2="796.90" stroke="#111" stroke-width="1.6"/>
<text x="73.30" y="800.60" font-size="12.0" text-anchor="end" textLength="16.60" lengthAdjust="spacingAndGlyphs" >2.0</text>
<line x1="90.50" y1="841.30" x2="90.50" y2="845.50" stroke="#111" stroke-width="1.6"/>
<text x="90.50" y="861.20" font-size="11.3" text-anchor="middle" >3</text>
<line x1="106.50" y1="841.30" x2="106.50" y2="845.50" stroke="#111" stroke-width="1.6"/>
<text x="106.50" y="861.20" font-size="11.3" text-anchor="middle" >7</text>
<line x1="122.50" y1="841.30" x2="122.50" y2="845.50" stroke="#111" stroke-width="1.6"/>
<text x="122.50" y="861.20" font-size="11.3" text-anchor="middle" >15</text>
<line x1="138.50" y1="841.30" x2="138.50" y2="845.50" stroke="#111" stroke-width="1.6"/>
<text x="138.50" y="861.20" font-size="11.3" text-anchor="middle" >3</text>
<line x1="154.50" y1="841.30" x2="154.50" y2="845.50" stroke="#111" stroke-width="1.6"/>
<text x="154.50" y="861.20" font-size="11.3" text-anchor="middle" >7</text>
<line x1="170.50" y1="841.30" x2="170.50" y2="845.50" stroke="#111" stroke-width="1.6"/>
<text x="170.50" y="861.20" font-size="11.3" text-anchor="middle" >15</text>
<line x1="186.50" y1="841.30" x2="186.50" y2="845.50" stroke="#111" stroke-width="1.6"/>
<text x="186.50" y="861.20" font-size="11.3" text-anchor="middle" >3</text>
<line x1="202.50" y1="841.30" x2="202.50" y2="845.50" stroke="#111" stroke-width="1.6"/>
<text x="202.50" y="861.20" font-size="11.3" text-anchor="middle" >7</text>
<line x1="218.50" y1="841.30" x2="218.50" y2="845.50" stroke="#111" stroke-width="1.6"/>
<text x="218.50" y="861.20" font-size="11.3" text-anchor="middle" >15</text>
<line x1="234.50" y1="841.30" x2="234.50" y2="845.50" stroke="#111" stroke-width="1.6"/>
<text x="234.50" y="861.20" font-size="11.3" text-anchor="middle" >3</text>
<line x1="250.50" y1="841.30" x2="250.50" y2="845.50" stroke="#111" stroke-width="1.6"/>
<text x="250.50" y="861.20" font-size="11.3" text-anchor="middle" >7</text>
<line x1="266.50" y1="841.30" x2="266.50" y2="845.50" stroke="#111" stroke-width="1.6"/>
<text x="266.50" y="861.20" font-size="11.3" text-anchor="middle" >15</text>
<text x="48.00" y="816.50" font-size="14.5" text-anchor="middle" textLength="49.50" lengthAdjust="spacingAndGlyphs" transform="rotate(-90 48.00 816.50)" >pAkt 308</text>
<polyline points="185.60,699.60 185.60,695.40 235.30,695.40 235.30,699.60" fill="none" stroke="#111" stroke-width="1.6"/>
<polygon points="204.80,688.40 205.53,690.19 207.46,690.33 205.99,691.59 206.45,693.47 204.80,692.45 203.15,693.47 203.61,691.59 202.14,690.33 204.07,690.19" fill="#111"/>
<polygon points="210.20,688.40 210.93,690.19 212.86,690.33 211.39,691.59 211.85,693.47 210.20,692.45 208.55,693.47 209.01,691.59 207.54,690.33 209.47,690.19" fill="#111"/>
<polygon points="215.60,688.40 216.33,690.19 218.26,690.33 216.79,691.59 217.25,693.47 215.60,692.45 213.95,693.47 214.41,691.59 212.94,690.33 214.87,690.19" fill="#111"/>
<polyline points="202.40,714.30 202.40,710.10 251.80,710.10 251.80,714.30" fill="none" stroke="#111" stroke-width="1.6"/>
<polygon points="226.90,703.30 227.63,705.09 229.56,705.23 228.09,706.49 228.55,708.37 226.90,707.35 225.25,708.37 225.71,706.49 224.24,705.23 226.17,705.09" fill="#111"/>
<polyline points="185.30,790.60 185.30,786.60 235.00,786.60 235.00,790.60" fill="none" stroke="#111" stroke-width="1.6"/>
<polygon points="206.60,779.20 207.33,780.99 209.26,781.13 207.79,782.39 208.25,784.27 206.60,783.25 204.95,784.27 205.41,782.39 203.94,781.13 205.87,780.99" fill="#111"/>
<polygon points="212.80,779.20 213.53,780.99 215.46,781.13 213.99,782.39 214.45,784.27 212.80,783.25 211.15,784.27 211.61,782.39 210.14,781.13 212.07,780.99" fill="#111"/>
<polyline points="202.30,805.60 202.30,800.80 251.80,800.80 251.80,805.60" fill="none" stroke="#111" stroke-width="1.6"/>
<polygon points="224.00,793.70 224.73,795.49 226.66,795.63 225.19,796.89 225.65,798.77 224.00,797.75 222.35,798.77 222.81,796.89 221.34,795.63 223.27,795.49" fill="#111"/>
<polygon points="230.20,793.70 230.93,795.49 232.86,795.63 231.39,796.89 231.85,798.77 230.20,797.75 228.55,798.77 229.01,796.89 227.54,795.63 229.47,795.49" fill="#111"/>
<text x="280.00" y="855.40" font-size="11" textLength="34.50" lengthAdjust="spacingAndGlyphs" >t (min)</text>
<text x="23.80" y="880.80" font-size="10.3" textLength="36.20" lengthAdjust="spacingAndGlyphs" >α-ILT3</text>
<text x="23.80" y="898.10" font-size="10.3" textLength="37.50" lengthAdjust="spacingAndGlyphs" >α-BCR</text>
<text x="90.50" y="881.20" font-size="10.5" text-anchor="middle" >-</text>
<text x="90.50" y="898.20" font-size="10.5" text-anchor="middle" >-</text>
<text x="106.50" y="881.20" font-size="10.5" text-anchor="middle" >-</text>
<text x="106.50" y="898.20" font-size="10.5" text-anchor="middle" >-</text>
<text x="122.50" y="881.20" font-size="10.5" text-anchor="middle" >-</text>
<text x="122.50" y="898.20" font-size="10.5" text-anchor="middle" >-</text>
<text x="138.50" y="882.60" font-size="10.5" text-anchor="middle" >+</text>
<text x="138.50" y="898.20" font-size="10.5" text-anchor="middle" >-</text>
<text x="154.50" y="882.60" font-size="10.5" text-anchor="middle" >+</text>
<text x="154.50" y="898.20" font-size="10.5" text-anchor="middle" >-</text>
<text x="170.50" y="882.60" font-size="10.5" text-anchor="middle" >+</text>
<text x="170.50" y="898.20" font-size="10.5" text-anchor="middle" >-</text>
<text x="186.50" y="881.20" font-size="10.5" text-anchor="middle" >-</text>
<text x="186.50" y="899.20" font-size="10.5" text-anchor="middle" >+</text>
<text x="202.50" y="881.20" font-size="10.5" text-anchor="middle" >-</text>
<text x="202.50" y="899.20" font-size="10.5" text-anchor="middle" >+</text>
<text x="218.50" y="881.20" font-size="10.5" text-anchor="middle" >-</text>
<text x="218.50" y="899.20" font-size="10.5" text-anchor="middle" >+</text>
<text x="234.50" y="882.60" font-size="10.5" text-anchor="middle" >+</text>
<text x="234.50" y="899.20" font-size="10.5" text-anchor="middle" >+</text>
<text x="250.50" y="882.60" font-size="10.5" text-anchor="middle" >+</text>
<text x="250.50" y="899.20" font-size="10.5" text-anchor="middle" >+</text>
<text x="266.50" y="882.60" font-size="10.5" text-anchor="middle" >+</text>
<text x="266.50" y="899.20" font-size="10.5" text-anchor="middle" >+</text>
<text x="319.60" y="365.30" font-size="18" font-weight="bold" textLength="12.00" lengthAdjust="spacingAndGlyphs" style="stroke-width:0.5px">C</text>
<rect x="405.3" y="446.70" width="36.9" height="49.50" fill="#fff" stroke="#111" stroke-width="2"/>
<rect x="462.4" y="432.84" width="37.4" height="63.36" fill="#fff" stroke="#111" stroke-width="2"/>
<polyline points="481.3,441.2 481.3,425.0 490.0,425.0 490.0,441.2 481.3,441.2" fill="none" stroke="#111" stroke-width="1.6"/>
<line x1="395.50" y1="392.60" x2="395.50" y2="497.20" stroke="#111" stroke-width="1.8"/>
<line x1="394.60" y1="496.20" x2="507.50" y2="496.20" stroke="#111" stroke-width="1.9"/>
<line x1="390.50" y1="496.20" x2="395.50" y2="496.20" stroke="#111" stroke-width="1.6"/>
<text x="386.20" y="500.10" font-size="12.0" text-anchor="end" textLength="16.60" lengthAdjust="spacingAndGlyphs" >0.0</text>
<line x1="390.50" y1="471.45" x2="395.50" y2="471.45" stroke="#111" stroke-width="1.6"/>
<text x="386.20" y="475.35" font-size="12.0" text-anchor="end" textLength="16.60" lengthAdjust="spacingAndGlyphs" >0.5</text>
<line x1="390.50" y1="446.70" x2="395.50" y2="446.70" stroke="#111" stroke-width="1.6"/>
<text x="386.20" y="450.60" font-size="12.0" text-anchor="end" textLength="16.60" lengthAdjust="spacingAndGlyphs" >1.0</text>
<line x1="390.50" y1="421.95" x2="395.50" y2="421.95" stroke="#111" stroke-width="1.6"/>
<text x="386.20" y="425.85" font-size="12.0" text-anchor="end" textLength="16.60" lengthAdjust="spacingAndGlyphs" >1.5</text>
<line x1="390.50" y1="397.20" x2="395.50" y2="397.20" stroke="#111" stroke-width="1.6"/>
<text x="386.20" y="401.10" font-size="12.0" text-anchor="end" textLength="16.60" lengthAdjust="spacingAndGlyphs" >2.0</text>
<line x1="423.80" y1="496.20" x2="423.80" y2="500.70" stroke="#111" stroke-width="1.6"/>
<line x1="480.90" y1="496.20" x2="480.90" y2="500.70" stroke="#111" stroke-width="1.6"/>
<circle cx="409.1" cy="446.7" r="4.4" fill="#3b5383" stroke="#0f1628" stroke-width="1.7"/>
<circle cx="418.7" cy="446.7" r="4.4" fill="#3b5383" stroke="#0f1628" stroke-width="1.7"/>
<circle cx="428.2" cy="446.7" r="4.4" fill="#3b5383" stroke="#0f1628" stroke-width="1.7"/>
<circle cx="437.9" cy="446.7" r="4.4" fill="#3b5383" stroke="#0f1628" stroke-width="1.7"/>
<circle cx="474.6" cy="422.8" r="4.4" fill="#881636" stroke="#25050d" stroke-width="1.7"/>
<circle cx="491.9" cy="429.5" r="4.4" fill="#881636" stroke="#25050d" stroke-width="1.7"/>
<circle cx="486.4" cy="437.7" r="4.4" fill="#881636" stroke="#25050d" stroke-width="1.7"/>
<circle cx="475.1" cy="442.5" r="4.4" fill="#881636" stroke="#25050d" stroke-width="1.7"/>
<polyline points="426.7,403.8 426.7,396.6 476.6,396.6 476.6,403.8" fill="none" stroke="#111" stroke-width="1.6"/>
<polygon points="451.30,386.20 452.03,387.99 453.96,388.13 452.49,389.39 452.95,391.27 451.30,390.25 449.65,391.27 450.11,389.39 448.64,388.13 450.57,387.99" fill="#111"/>
<text x="343.60" y="443.90" font-size="14.8" text-anchor="middle" textLength="71.20" lengthAdjust="spacingAndGlyphs" transform="rotate(-90 343.60 443.90)" >Fold-change</text>
<text x="361.60" y="444.20" font-size="14.8" text-anchor="middle" textLength="103.40" lengthAdjust="spacingAndGlyphs" transform="rotate(-90 361.60 444.20)" >annexin-pos. cells</text>
<text x="423.90" y="515.80" font-size="10.5" text-anchor="middle" textLength="37.60" lengthAdjust="spacingAndGlyphs" >α-BCR</text>
<text x="424.50" y="529.60" font-size="10.5" text-anchor="middle" textLength="27.20" lengthAdjust="spacingAndGlyphs" >+ iso</text>
<text x="480.60" y="515.80" font-size="10.5" text-anchor="middle" textLength="38.00" lengthAdjust="spacingAndGlyphs" >α-BCR</text>
<text x="480.60" y="529.60" font-size="10.5" text-anchor="middle" textLength="46.30" lengthAdjust="spacingAndGlyphs" >+ α-ILT3</text>
<rect x="1.15" y="1.1" width="517.7" height="909.7" fill="none" stroke="#000" stroke-width="2.3"/></svg></body></html>
